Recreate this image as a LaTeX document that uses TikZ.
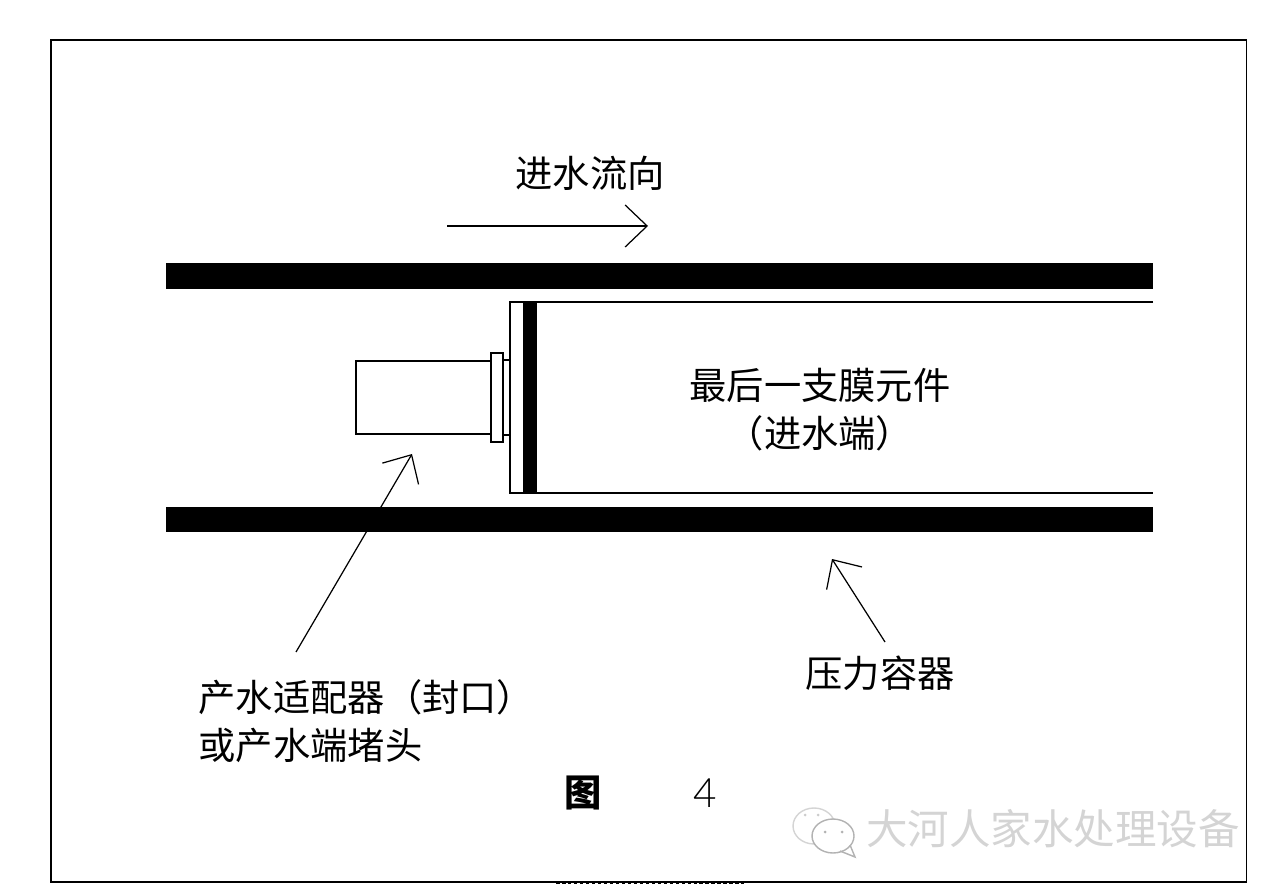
\documentclass[tikz,border=0pt]{standalone}
\usepackage{fontspec}
\newfontfamily\cjk{Noto Sans CJK SC}
\newfontfamily\latinfont{Lato}[UprightFont=* Light]
\usetikzlibrary{arrows.meta}
\tikzset{
	label text/.style={inner sep=0pt, font=\cjk\fontsize{10.6pt}{13pt}\selectfont},
	mark text/.style={inner sep=0pt, color=black!17, font=\cjk\fontsize{11.8pt}{14pt}\selectfont},
	thin part/.style={line width=0.45pt},
	pointer/.style={line width=0.35pt, -{Straight Barb[length=2.2mm, width=4.2mm]}},
}

\begin{document}
\begin{tikzpicture}[x=0.01cm, y=-0.01cm]
	%%%%% START %%%%%
	\useasboundingbox (0, 0) rectangle (1280, 895);
	
	\draw[line width=0.3pt] (51, 40) rectangle (1246, 882);
	\draw[line width=0.4pt, dash pattern=on 1pt off 0.7pt] (556, 883) -- (744, 883);
	
	% pressure vessel walls
	\fill[black] (166, 263) rectangle (1153, 289);
	\fill[black] (166, 507) rectangle (1153, 532);
	
	% membrane element
	\draw[thin part] (1153, 302) -- (510, 302) -- (510, 493) -- (1153, 493);
	\fill[black] (523, 301) rectangle (537, 494);
	
	% adapter
	\draw[thin part] (491, 361) -- (356, 361) -- (356, 434) -- (491, 434);
	\draw[thin part] (491, 353) rectangle (503, 442);
	\draw[thin part] (503, 360) -- (510, 360);
	\draw[thin part] (503, 435) -- (510, 435);
	
	% labels
	\node[label text] (flowlabel) at (590, 173) {进水流向};
	\node[label text] (elementlabel) at (820, 385) {最后一支膜元件};
	\node[label text] (feedlabel) at (820, 433) {（进水端）};
	\node[label text] (vessellabel) at (880, 673) {压力容器};
	\node[label text, anchor=west] (adapterlabel) at (198, 697) {产水适配器（封口）};
	\node[label text, anchor=west] (pluglabel) at (198, 745) {或产水端堵头};
	\node[label text, font=\cjk\bfseries\fontsize{10.6pt}{13pt}\selectfont] (figlabel) at (583, 793) {图};
	\node[inner sep=0pt, font=\latinfont\fontsize{11.5pt}{14pt}\selectfont] (fignum) at (705, 793) {4};
	
	% arrows
	\coordinate (flowstart) at (447, 226);
	\coordinate (flowend) at (648, 226);
	\coordinate (adapterstart) at (296, 652);
	\coordinate (adapterend) at (412, 454);
	\coordinate (vesselstart) at (885, 642);
	\coordinate (vesselend) at (832, 559);
	\draw[pointer] (flowstart) -- (flowend);
	\draw[pointer] (adapterstart) -- (adapterend);
	\draw[pointer] (vesselstart) -- (vesselend);
	
	% watermark
	\draw[line width=0.4pt, color=black!17] (814, 826) ellipse (21 and 18);
	\draw[line width=0.4pt, color=black!30, fill=white] (833, 836) ellipse (21 and 17);
	\draw[line width=0.4pt, color=black!30] (840, 851) -- (855, 857) -- (850, 845);
	\fill[color=black!30] (825, 832) circle (1.5);
	\fill[color=black!30] (842, 832) circle (1.5);
	\fill[color=black!20] (805, 815) circle (1.5);
	\fill[color=black!20] (818, 815) circle (1.5);
	\node[mark text] (marklabel) at (1053, 829) {大河人家水处理设备};
	
	%%%%% END %%%%%
\end{tikzpicture}
\end{document}
